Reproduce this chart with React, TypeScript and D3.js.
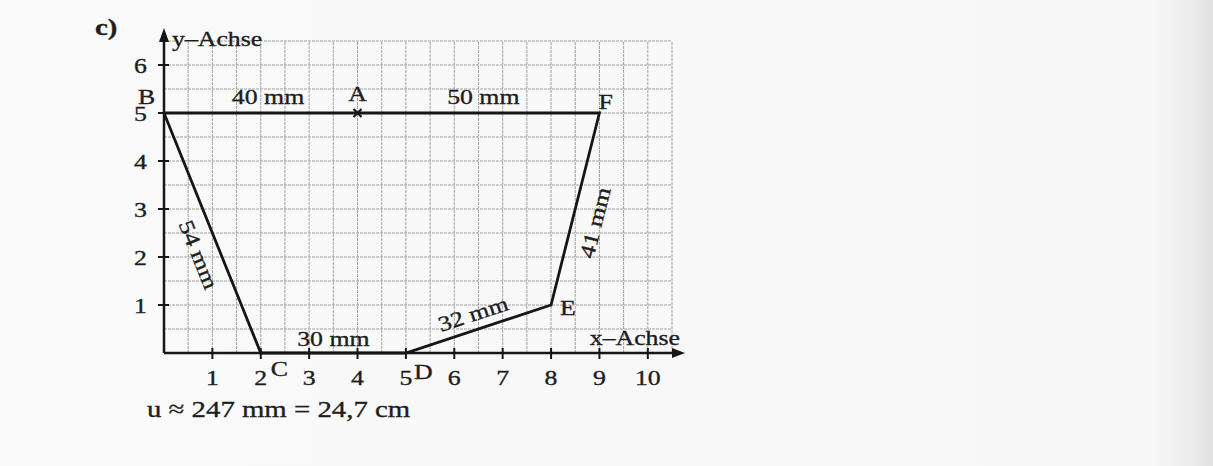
import React from "react";
import * as d3 from "d3";

const pointNames = ["B", "C", "D", "E", "F"];
const pointX = [0, 2, 5, 8, 9];
const pointY = [5, 0, 0, 1, 5];
const segmentLabels = ["54 mm", "30 mm", "32 mm", "41 mm", "50 mm", "40 mm"];
const xTicks = [1, 2, 3, 4, 5, 6, 7, 8, 9, 10];
const yTicks = [1, 2, 3, 4, 5, 6];
const pointA = { name: "A", x: 4, y: 5 };
const caption = "u ≈ 247 mm = 24,7 cm";

const W = 1213;
const H = 466;
const FONT = "'Liberation Serif', 'DejaVu Serif', serif";
const SX = 1.2;
const INK_TXT = "#1e1e1e";

function T(props: {
  x: number;
  y: number;
  size?: number;
  anchor?: "start" | "middle" | "end";
  rotate?: number;
  bold?: boolean;
  dy?: number;
  children: React.ReactNode;
}) {
  const { x, y, size = 21.5, anchor = "start", rotate = 0, bold = false, dy = 0, children } = props;
  return (
    <text
      transform={`translate(${x},${y}) rotate(${rotate}) scale(${SX},1)`}
      fontSize={size}
      textAnchor={anchor}
      fontWeight={bold ? "bold" : "normal"}
      fill={INK_TXT}
      stroke={INK_TXT}
      strokeWidth={0.35}
      dy={dy}
    >
      {children}
    </text>
  );
}

export default function App() {
  const x = d3.scaleLinear().domain([0, 10.5]).range([164, 672]);
  const y = d3.scaleLinear().domain([0, 6.5]).range([353, 41]);
  const gridX = d3.range(0.5, 10.51, 0.5);
  const gridY = d3.range(0.5, 6.51, 0.5);
  const line = d3
    .line<number>()
    .x((i) => x(pointX[i]))
    .y((i) => y(pointY[i]));
  const pathIdx = [0, 1, 2, 3, 4, 0];
  const ink = "#161616";

  const mid = (i: number, j: number) => [
    (x(pointX[i]) + x(pointX[j])) / 2,
    (y(pointY[i]) + y(pointY[j])) / 2,
  ];
  const ang = (i: number, j: number) =>
    (Math.atan2(y(pointY[j]) - y(pointY[i]), x(pointX[j]) - x(pointX[i])) * 180) / Math.PI;

  const bc = mid(0, 1);
  const de = mid(2, 3);
  const ef = mid(3, 4);

  return (
    <svg
      width={W}
      height={H}
      style={{ position: "absolute", left: 0, top: 0, fontFamily: FONT }}
    >
      <defs>
        <linearGradient id="paper" x1="0" x2="1" y1="0" y2="0">
          <stop offset="0" stopColor="#fafafa" />
          <stop offset="0.95" stopColor="#f7f7f7" />
          <stop offset="0.985" stopColor="#ebebeb" />
          <stop offset="1" stopColor="#e0e0e0" />
        </linearGradient>
      </defs>
      <rect x={0} y={0} width={W} height={H} fill="url(#paper)" />

      {/* grid */}
      <g stroke="#a0a0a0" strokeWidth={1} strokeDasharray="3,1">
        {gridX.map((v) => (
          <line key={"gx" + v} x1={x(v)} x2={x(v)} y1={y(0)} y2={y(6.5)} />
        ))}
        {gridY.map((v) => (
          <line key={"gy" + v} x1={x(0)} x2={x(10.5)} y1={y(v)} y2={y(v)} />
        ))}
      </g>

      {/* axes */}
      <g stroke={ink} strokeWidth={2.5}>
        <line x1={x(0)} x2={x(10.5) + 2} y1={y(0)} y2={y(0)} />
        <line x1={x(0)} x2={x(0)} y1={y(0)} y2={y(6.5) - 2} />
        {xTicks.map((t) => (
          <line key={"xt" + t} x1={x(t)} x2={x(t)} y1={y(0) - 5} y2={y(0) + 6} strokeWidth={2} />
        ))}
        {yTicks.map((t) => (
          <line key={"yt" + t} x1={x(0) - 6} x2={x(0) + 5} y1={y(t)} y2={y(t)} strokeWidth={2} />
        ))}
      </g>
      <path
        d={`M${x(10.5) + 13},${y(0)} L${x(10.5)},${y(0) - 5} L${x(10.5)},${y(0) + 5} Z`}
        fill={ink}
      />
      <path
        d={`M${x(0)},${y(6.5) - 13} L${x(0) - 5},${y(6.5) + 1} L${x(0) + 5},${y(6.5) + 1} Z`}
        fill={ink}
      />

      {/* tick labels */}
      {xTicks.map((t) => (
        <T key={"xl" + t} x={x(t)} y={y(0) + 32} anchor="middle">
          {t}
        </T>
      ))}
      {yTicks.map((t) => (
        <T key={"yl" + t} x={x(0) - 17} y={y(t) + 8} anchor="end">
          {t}
        </T>
      ))}

      {/* axis titles */}
      <T x={x(0) + 8} y={y(6.5) + 5}>
        y–Achse
      </T>
      <T x={x(10.5) + 8} y={y(0) - 8} anchor="end">
        x–Achse
      </T>

      {/* polygon */}
      <path
        d={line(pathIdx) || ""}
        fill="none"
        stroke={ink}
        strokeWidth={2.8}
        strokeLinejoin="miter"
      />

      {/* point A */}
      <g stroke={ink} strokeWidth={2.2}>
        <line x1={x(pointA.x) - 4} x2={x(pointA.x) + 4} y1={y(pointA.y) - 4} y2={y(pointA.y) + 4} />
        <line x1={x(pointA.x) - 4} x2={x(pointA.x) + 4} y1={y(pointA.y) + 4} y2={y(pointA.y) - 4} />
      </g>
      <T x={x(pointA.x)} y={y(pointA.y) - 12} anchor="middle">
        {pointA.name}
      </T>

      {/* point labels */}
      <T x={x(pointX[0]) - 26} y={y(pointY[0]) - 9}>{pointNames[0]}</T>
      <T x={x(pointX[1]) + 10} y={y(pointY[1]) + 23}>{pointNames[1]}</T>
      <T x={x(pointX[2]) + 8} y={y(pointY[2]) + 26}>{pointNames[2]}</T>
      <T x={x(pointX[3]) + 9} y={y(pointY[3]) + 10}>{pointNames[3]}</T>
      <T x={x(pointX[4]) - 1} y={y(pointY[4]) - 4}>{pointNames[4]}</T>

      {/* segment labels */}
      <T x={bc[0] - 15} y={bc[1] + 22} rotate={ang(0, 1)} anchor="middle" dy={6}>
        {segmentLabels[0]}
      </T>
      <T x={x(3.5)} y={y(0) - 7} anchor="middle">
        {segmentLabels[1]}
      </T>
      <T x={de[0] - 5} y={de[1] - 14} rotate={ang(2, 3)} anchor="middle" dy={6}>
        {segmentLabels[2]}
      </T>
      <T x={ef[0] + 21} y={ef[1] + 14} rotate={ang(3, 4)} anchor="middle" dy={6}>
        {segmentLabels[3]}
      </T>
      <T x={x(6.6)} y={y(5) - 9} anchor="middle">
        {segmentLabels[4]}
      </T>
      <T x={x(2.15)} y={y(5) - 9} anchor="middle">
        {segmentLabels[5]}
      </T>

      {/* header and caption */}
      <T x={95} y={35} size={24} bold>
        c)
      </T>
      <T x={147} y={417} size={24}>
        {caption}
      </T>
    </svg>
  );
}
